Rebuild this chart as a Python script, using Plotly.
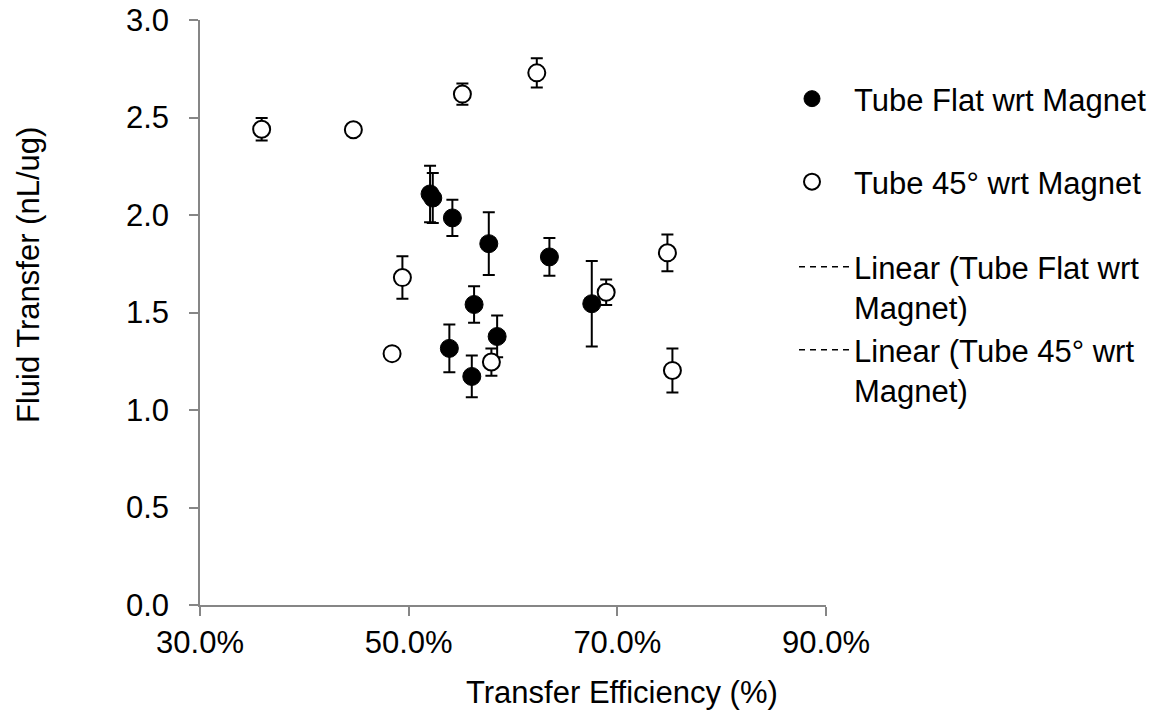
import plotly.graph_objects as go

# Tube Flat wrt Magnet (filled circles)
flat_x = [0.5205, 0.5231, 0.5419, 0.5768, 0.6349, 0.6755, 0.5627, 0.5848, 0.5390, 0.5605]
flat_y = [2.108, 2.087, 1.985, 1.853, 1.785, 1.545, 1.541, 1.377, 1.316, 1.172]
flat_err = [0.145, 0.128, 0.093, 0.161, 0.097, 0.219, 0.094, 0.107, 0.123, 0.107]

# Tube 45° wrt Magnet (open circles)
deg45_x = [0.3591, 0.4470, 0.5515, 0.6228, 0.4940, 0.4841, 0.5793, 0.7480, 0.7528, 0.6893]
deg45_y = [2.440, 2.437, 2.620, 2.729, 1.679, 1.289, 1.246, 1.806, 1.203, 1.604]
deg45_err = [0.058, 0.0, 0.054, 0.075, 0.109, 0.0, 0.070, 0.094, 0.113, 0.065]

x_ticks = [0.3, 0.5, 0.7, 0.9]
y_ticks = [0.0, 0.5, 1.0, 1.5, 2.0, 2.5, 3.0]

FONT = "Liberation Sans, Arial, sans-serif"
FS = 31
AXIS_COLOR = "#868686"
W, H = 1154, 712

fig = go.Figure()

fig.add_trace(go.Scatter(
    x=flat_x, y=flat_y, mode="markers", name="Tube Flat wrt Magnet",
    marker=dict(symbol="circle", size=18, color="black", line=dict(color="black", width=1)),
    error_y=dict(type="data", array=flat_err, symmetric=True, color="black", thickness=2, width=6),
    legend="legend",
))
fig.add_trace(go.Scatter(
    x=deg45_x, y=deg45_y, mode="markers", name="Tube 45° wrt Magnet",
    marker=dict(symbol="circle", size=17, color="white", line=dict(color="black", width=2)),
    error_y=dict(type="data", array=deg45_err, symmetric=True, color="black", thickness=2, width=6),
    legend="legend2",
))
fig.add_trace(go.Scatter(
    x=[None], y=[None], mode="lines", name="Linear (Tube Flat wrt<br>Magnet)",
    line=dict(color="black", width=1.5, dash="6px,5px"),
    legend="legend3",
))
fig.add_trace(go.Scatter(
    x=[None], y=[None], mode="lines", name="Linear (Tube 45° wrt<br>Magnet)",
    line=dict(color="black", width=1.5, dash="6px,5px"),
    legend="legend4",
))

def leg(left_px, top_px, itemwidth):
    return dict(x=left_px / W, y=1 - top_px / H, xref="container", yref="container",
                xanchor="left", yanchor="top", valign="top", itemwidth=itemwidth,
                bgcolor="rgba(0,0,0,0)", borderwidth=0,
                font=dict(family=FONT, size=FS, color="black"))

fig.update_layout(
    width=W, height=H,
    margin=dict(l=200, r=328, t=20, b=107, autoexpand=False),
    paper_bgcolor="white", plot_bgcolor="white",
    font=dict(family=FONT, size=FS, color="black"),
    showlegend=True,
    legend=leg(770, 72, 74),
    legend2=leg(770, 155, 74),
    legend3=leg(794, 240, 50),
    legend4=leg(794, 323, 50),
    xaxis=dict(
        range=[0.3, 0.9], tickvals=x_ticks, tickformat=".1%", automargin=False,
        showgrid=False, zeroline=False, showline=True, linecolor=AXIS_COLOR, linewidth=1.5,
        ticks="outside", ticklen=9, tickwidth=1.5, tickcolor=AXIS_COLOR,
        tickfont=dict(family=FONT, size=FS, color="black"),
    ),
    yaxis=dict(
        range=[0, 3], tickvals=y_ticks, tickformat=".1f", automargin=False,
        showgrid=False, zeroline=False, showline=True, linecolor=AXIS_COLOR, linewidth=1.5,
        ticks="outside", ticklen=9, tickwidth=1.5, tickcolor=AXIS_COLOR,
        tickfont=dict(family=FONT, size=FS, color="black"),
        ticklabelstandoff=14,
    ),
    annotations=[
        dict(text="Transfer Efficiency (%)", xref="paper", yref="paper",
             x=(622 - 200) / 626, y=(605 - 692) / 585, xanchor="center", yanchor="middle",
             showarrow=False, font=dict(family=FONT, size=FS, color="black")),
        dict(text="Fluid Transfer (nL/ug)", xref="paper", yref="paper",
             x=(28 - 200) / 626, y=(605 - 275) / 585, xanchor="center", yanchor="middle",
             textangle=-90, showarrow=False, font=dict(family=FONT, size=FS, color="black")),
    ],
)

fig.write_html(
    "out.html",
    config={"displayModeBar": False},
    post_script="document.body.style.margin='0';document.body.style.overflow='hidden';",
)
